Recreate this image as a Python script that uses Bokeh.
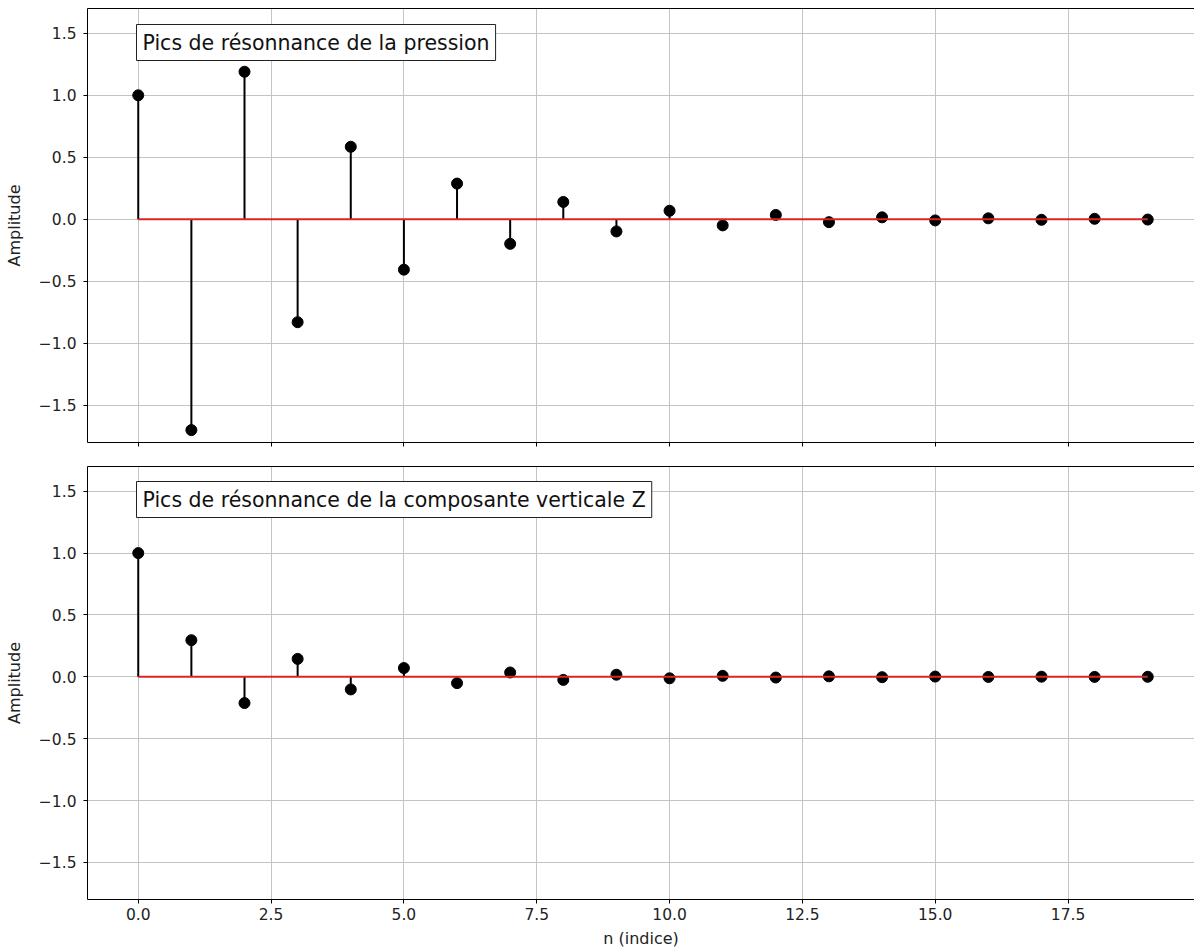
from bokeh.plotting import figure
from bokeh.layouts import column
from bokeh.models import (ColumnDataSource, FixedTicker, CustomJSTickFormatter,
                          LinearAxis, Label, Range1d)
from bokeh.embed import file_html
from bokeh.resources import INLINE

# Peak indices and amplitudes of the two resonance series
n = list(range(20))
pression = [1.0, -1.70, 1.19, -0.83, 0.585, -0.406, 0.288, -0.198, 0.14, -0.098,
            0.069, -0.049, 0.035, -0.023, 0.016, -0.009, 0.008, -0.004, 0.004, -0.002]
composante_z = [1.0, 0.296, -0.212, 0.145, -0.102, 0.071, -0.051, 0.035, -0.025, 0.017,
                -0.012, 0.008, -0.006, 0.004, -0.003, 0.002, -0.001, 0.001, -0.0005, 0.0003]

titles = ["Pics de résonnance de la pression",
          "Pics de résonnance de la composante verticale Z"]
x_ticks = [0, 2.5, 5, 7.5, 10, 12.5, 15, 17.5]
y_ticks = [-1.5, -1.0, -0.5, 0.0, 0.5, 1.0, 1.5]
x_label = "n (indice)"
y_label = "Amplitude"

FONT = "DejaVu Sans"
GRID = "#c4c4c4"
FRAME_H = 434

x_range = Range1d(-0.955, 19.88)
fmt = CustomJSTickFormatter(code="return tick.toFixed(1).replace('-', '\u2212');")
blank = CustomJSTickFormatter(code="return '';")


def stem_panel(values, title, height, top, bottom, last):
    p = figure(width=1194, height=height, x_range=x_range,
               y_range=Range1d(-1.8, 1.7),
               output_backend="svg", toolbar_location=None,
               min_border_left=87, min_border_right=0,
               min_border_top=top, min_border_bottom=bottom)
    p.outline_line_color = None
    p.background_fill_color = "white"
    p.border_fill_color = "white"

    xa = p.below[0]
    xa.ticker = FixedTicker(ticks=x_ticks)
    xa.axis_line_color = "black"
    xa.major_tick_line_color = "black"
    xa.major_tick_out = 4
    xa.major_tick_in = 0
    xa.minor_tick_line_color = None
    if last:
        xa.formatter = fmt
        xa.major_label_text_font = FONT
        xa.major_label_text_font_size = "15.5px"
        xa.major_label_text_color = "#222222"
        xa.major_label_standoff = 4
        xa.axis_label = x_label
        xa.axis_label_text_font = FONT
        xa.axis_label_text_font_size = "16px"
        xa.axis_label_text_font_style = "normal"
        xa.axis_label_text_color = "#222222"
        xa.axis_label_standoff = 6
    else:
        xa.formatter = blank
        xa.major_label_standoff = 0

    ya = p.left[0]
    ya.ticker = FixedTicker(ticks=y_ticks)
    ya.formatter = fmt
    ya.axis_line_color = "black"
    ya.major_tick_line_color = "black"
    ya.major_tick_out = 4
    ya.major_tick_in = 0
    ya.minor_tick_line_color = None
    ya.major_label_text_font = FONT
    ya.major_label_text_font_size = "15.5px"
    ya.major_label_text_color = "#222222"
    ya.major_label_standoff = 7
    ya.axis_label = y_label
    ya.axis_label_text_font = FONT
    ya.axis_label_text_font_size = "16px"
    ya.axis_label_text_font_style = "normal"
    ya.axis_label_text_color = "#222222"
    ya.axis_label_standoff = 12

    # frame line along the top edge
    top_axis = LinearAxis(ticker=FixedTicker(ticks=[]), formatter=blank,
                          axis_line_color="black", axis_line_width=1,
                          major_tick_line_color=None, minor_tick_line_color=None,
                          major_label_standoff=0)
    p.add_layout(top_axis, "above")

    p.xgrid.ticker = FixedTicker(ticks=x_ticks)
    p.ygrid.ticker = FixedTicker(ticks=y_ticks)
    for g in (p.xgrid[0], p.ygrid[0]):
        g.grid_line_color = GRID
        g.grid_line_width = 1

    src = ColumnDataSource(dict(n=n, zero=[0] * len(n), v=values))
    p.segment(x0="n", y0="zero", x1="n", y1="v", source=src,
              line_color="black", line_width=2)
    p.scatter(x="n", y="v", source=src, size=11, marker="circle",
              fill_color="black", line_color="black")
    p.line(x=[n[0], n[-1]], y=[0, 0], line_color="#d62728", line_width=2)

    p.add_layout(Label(x=49, y=FRAME_H - 16, x_units="screen", y_units="screen",
                       text=title, text_font=FONT, text_font_size="20.5px",
                       text_color="#111111", text_align="left", text_baseline="top",
                       background_fill_color="white", border_line_color="#222222",
                       border_line_width=1, padding=(6, 6)))
    return p


p1 = stem_panel(pression, titles[0], 8 + FRAME_H + 12, 8, 12, False)
p2 = stem_panel(composante_z, titles[1], 12 + FRAME_H + 50, 12, 50, True)

layout = column(p1, p2, spacing=0)
open("out.html", "w").write(file_html(layout, INLINE))
